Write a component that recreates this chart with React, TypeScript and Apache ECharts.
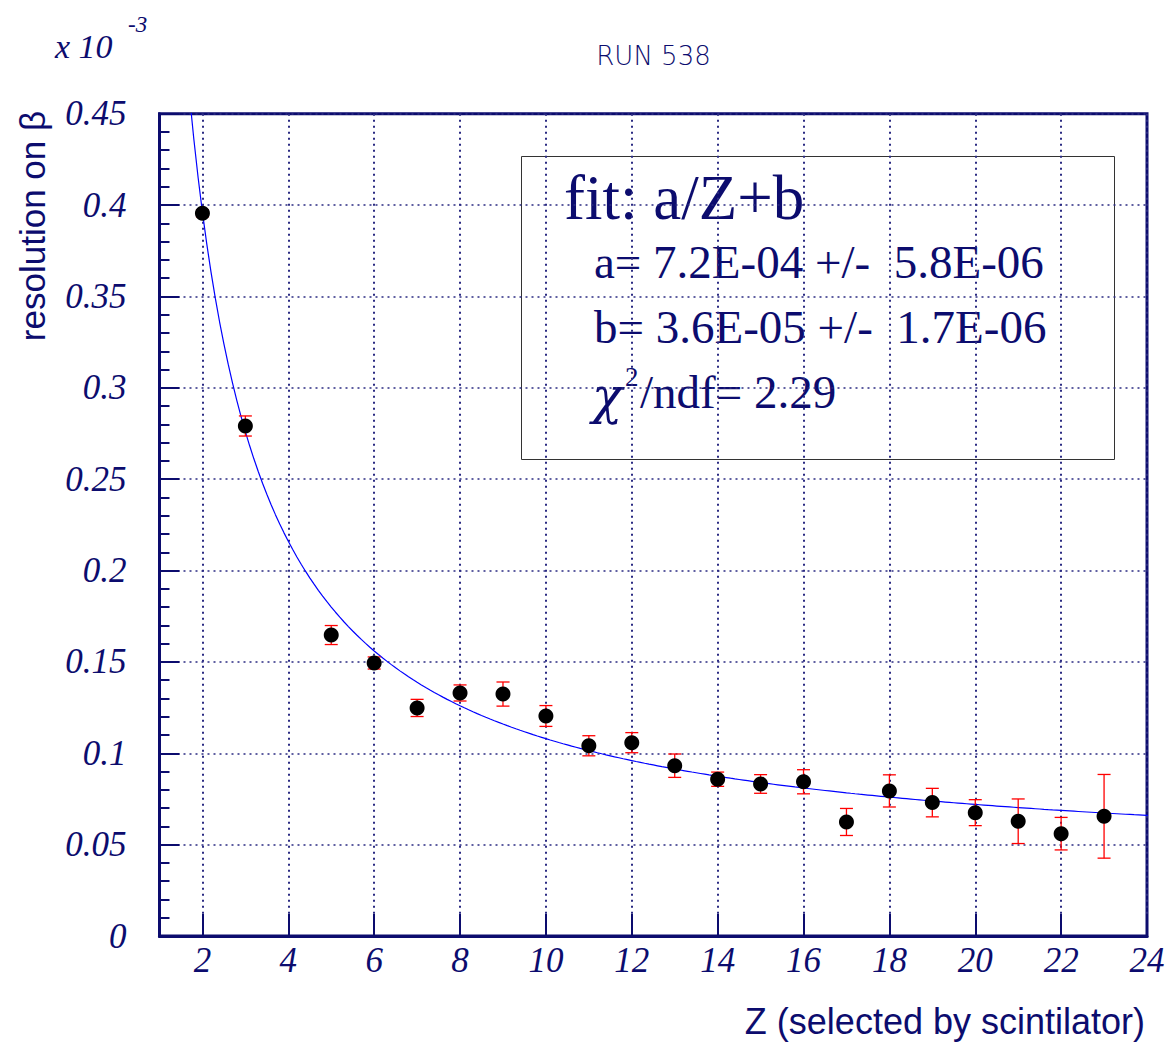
import { useEffect, useRef } from 'react';
import * as echarts from 'echarts';

// ---- data ----
const Z_VALUES = [2, 3, 5, 6, 7, 8, 9, 10, 11, 12, 13, 14, 15, 16, 17, 18, 19, 20, 21, 22, 23];
const RESOLUTION = [0.3955, 0.2791, 0.1647, 0.1494, 0.1248, 0.133, 0.1324, 0.1204, 0.1041, 0.1058, 0.0932, 0.0858, 0.0832, 0.0844, 0.0624, 0.0794, 0.073, 0.0675, 0.0628, 0.056, 0.0655];
const ERRORS = [0.002, 0.0055, 0.0052, 0.0033, 0.0047, 0.0044, 0.0066, 0.0057, 0.0055, 0.0055, 0.0064, 0.0039, 0.0051, 0.0066, 0.0074, 0.0088, 0.0078, 0.0071, 0.0122, 0.0089, 0.0229];
const X_TICKS = [2, 4, 6, 8, 10, 12, 14, 16, 18, 20, 22, 24];
// fit parameters (units of 1e-3), as stated in the fit box
const FIT_A = 0.72;
const FIT_B = 0.036;
const FIT_Z = Array.from({ length: 231 }, (_, i) => 1.7 + i * 0.1);

const NAVY = '#0c0c6e';
const GRIDC = '#2b2b82';
const SERIF = 'Liberation Serif';
const SANS = 'Liberation Sans';

export default function App() {
  const ref = useRef<HTMLDivElement>(null);
  useEffect(() => {
    if (!ref.current) return;
    const chart = echarts.init(ref.current, undefined, { renderer: 'svg' });
    const points = Z_VALUES.map((z, i) => [z, RESOLUTION[i]]);
    const errs = Z_VALUES.map((z, i) => [z, RESOLUTION[i], ERRORS[i]]);
    const fit = FIT_Z.map((z) => [z, FIT_A / z + FIT_B]);
    const labelStyle = { fontFamily: SERIF, fontStyle: 'italic', fontSize: 35, color: NAVY };
    chart.setOption({
      animation: false,
      backgroundColor: '#ffffff',
      grid: {
        left: 159.5, top: 113.7, right: 21, bottom: 107,
        show: true, borderColor: NAVY, borderWidth: 3, containLabel: false,
        outerBoundsMode: 'none',
      },
      xAxis: {
        type: 'value', min: 1, max: 24,
        axisLine: { show: true, lineStyle: { color: NAVY, width: 3 } },
        axisTick: { show: true, inside: true, length: 22, customValues: X_TICKS, lineStyle: { color: NAVY, width: 2 } },
        axisLabel: { ...labelStyle, margin: 7, customValues: X_TICKS, showMaxLabel: true, showMinLabel: true },
        splitLine: { show: true, lineStyle: { color: GRIDC, type: [2, 4], width: 2 } },
      },
      yAxis: {
        type: 'value', min: 0, max: 0.45, interval: 0.05,
        axisLine: { show: true, lineStyle: { color: NAVY, width: 3 } },
        axisTick: { show: true, inside: true, length: 20, lineStyle: { color: NAVY, width: 2 } },
        minorTick: { show: true, splitNumber: 5, length: 10, lineStyle: { color: NAVY, width: 2 } },
        axisLabel: { ...labelStyle, margin: 33, formatter: (v: number) => String(parseFloat(v.toFixed(2))) },
        splitLine: { show: true, lineStyle: { color: GRIDC, type: [2, 4], width: 1.6 } },
      },
      series: [
        {
          type: 'line', data: fit, showSymbol: false, symbol: 'none', clip: true,
          lineStyle: { color: '#0000ff', width: 1.2 }, z: 2, silent: true,
        },
        {
          type: 'custom', data: errs, z: 3, clip: true,
          renderItem: (params: any, api: any) => {
            const x = api.value(0), y = api.value(1), e = api.value(2);
            const top = api.coord([x, y + e]);
            const bot = api.coord([x, y - e]);
            const w = 6.5;
            const st = { stroke: '#ff0000', lineWidth: 1.3 };
            return {
              type: 'group',
              children: [
                { type: 'line', shape: { x1: top[0], y1: top[1], x2: bot[0], y2: bot[1] }, style: st },
                { type: 'line', shape: { x1: top[0] - w, y1: top[1], x2: top[0] + w, y2: top[1] }, style: st },
                { type: 'line', shape: { x1: bot[0] - w, y1: bot[1], x2: bot[0] + w, y2: bot[1] }, style: st },
              ],
            };
          },
        },
        {
          type: 'scatter', data: points, symbol: 'circle', symbolSize: 15, z: 4,
          itemStyle: { color: '#000000', opacity: 1 },
        },
      ],
      graphic: [
        { type: 'text', x: 653.5, y: 56, style: { text: 'RUN 538', fontFamily: 'DejaVu Sans', fontWeight: 200, fontSize: 26, fill: NAVY, align: 'center', verticalAlign: 'middle' } },
        { type: 'text', x: 55, y: 46, style: { text: 'x 10', fontFamily: SERIF, fontStyle: 'italic', fontSize: 34, fill: NAVY, align: 'left', verticalAlign: 'middle' } },
        { type: 'text', x: 128, y: 24, style: { text: '-3', fontFamily: SERIF, fontStyle: 'italic', fontSize: 23, fill: NAVY, align: 'left', verticalAlign: 'middle' } },
        { type: 'text', x: 32, y: 226, rotation: Math.PI / 2, style: { text: 'resolution on β', fontFamily: SANS, fontSize: 35, fill: NAVY, align: 'center', verticalAlign: 'middle' } },
        { type: 'text', x: 1145, y: 1021, style: { text: 'Z (selected by scintilator)', fontFamily: SANS, fontSize: 36, fill: NAVY, align: 'right', verticalAlign: 'middle' } },
        {
          type: 'group', z: 100,
          children: [
            { type: 'rect', shape: { x: 521.5, y: 156.5, width: 593, height: 303 }, style: { fill: '#ffffff', stroke: '#333333', lineWidth: 1 } },
            { type: 'text', x: 564, y: 198, style: { text: 'fit: a/Z+b', fontFamily: SERIF, fontSize: 63, fill: NAVY, align: 'left', verticalAlign: 'middle' } },
            { type: 'text', x: 594, y: 262, style: { text: 'a= 7.2E-04 +/- \u00a05.8E-06', fontFamily: SERIF, fontSize: 47, fill: NAVY, align: 'left', verticalAlign: 'middle' } },
            { type: 'text', x: 594, y: 327, style: { text: 'b= 3.6E-05 +/- \u00a01.7E-06', fontFamily: SERIF, fontSize: 47, fill: NAVY, align: 'left', verticalAlign: 'middle' } },
            { type: 'text', x: 592, y: 396, style: { text: 'χ', fontFamily: 'DejaVu Serif', fontStyle: 'italic', fontSize: 50, fill: NAVY, align: 'left', verticalAlign: 'middle' } },
            { type: 'text', x: 625, y: 377, style: { text: '2', fontFamily: SERIF, fontSize: 27, fill: NAVY, align: 'left', verticalAlign: 'middle' } },
            { type: 'text', x: 640, y: 392, style: { text: '/ndf= 2.29', fontFamily: SERIF, fontSize: 47, fill: NAVY, align: 'left', verticalAlign: 'middle' } },
          ],
        },
      ],
    });
    return () => chart.dispose();
  }, []);
  return <div ref={ref} style={{ position: 'absolute', left: 0, top: 0, width: 1168, height: 1043 }} />;
}
